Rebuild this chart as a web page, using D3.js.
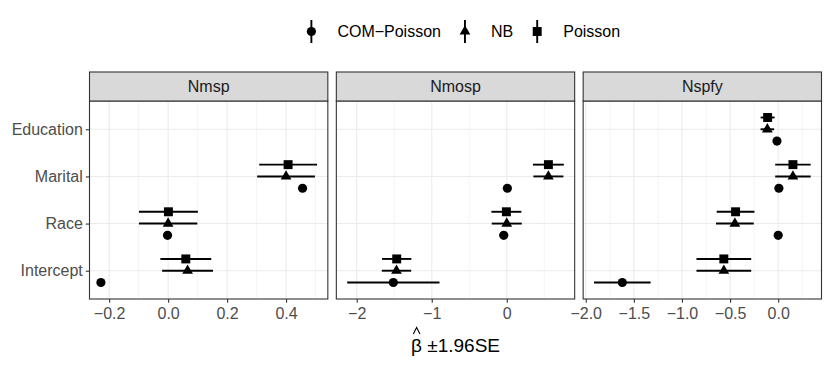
<!DOCTYPE html>
<html><head><meta charset="utf-8">
<script src="https://cdn.jsdelivr.net/npm/d3@7"></script>
<style>
body{margin:0;background:#fff}
svg{display:block}
text{font-family:"Liberation Sans",Arial,Helvetica,sans-serif}
</style>
</head><body>
<svg id="chart" width="830" height="368"></svg>
<script>
// ---------- data ----------
const panels = ["Nmsp", "Nmosp", "Nspfy"];
const terms = ["Intercept", "Race", "Marital", "Education"];   // bottom -> top
const models = ["COM-Poisson", "NB", "Poisson"];
const modelLabels = ["COM\u2212Poisson", "NB", "Poisson"];

// estimates: rows = model (COM-Poisson, NB, Poisson), cols = term (Intercept, Race, Marital, Education)
const estNmsp  = [[-0.228, -0.002, 0.456, null], [0.066, 0.000, 0.400, null], [0.060, 0.001, 0.407, null]];
const seNmsp   = [[0.001, 0.001, 0.001, null], [0.044, 0.0505, 0.050, null], [0.044, 0.051, 0.050, null]];
const estNmosp = [[-1.512, -0.040, 0.008, null], [-1.470, 0.000, 0.555, null], [-1.467, -0.005, 0.555, null]];
const seNmosp  = [[0.314, 0.028, 0.002, null], [0.100, 0.102, 0.102, null], [0.0995, 0.102, 0.105, null]];
const estNspfy = [[-1.620, 0.000, 0.007, -0.013], [-0.565, -0.450, 0.153, -0.113], [-0.565, -0.443, 0.153, -0.110]];
const seNspfy  = [[0.150, 0.002, 0.002, 0.002], [0.145, 0.100, 0.094, 0.036], [0.145, 0.100, 0.094, 0.037]];

const ticksNmsp  = [-0.2, 0.0, 0.2, 0.4];
const labelsNmsp = ["\u22120.2", "0.0", "0.2", "0.4"];
const ticksNmosp  = [-2, -1, 0];
const labelsNmosp = ["\u22122", "\u22121", "0"];
const ticksNspfy  = [-2.0, -1.5, -1.0, -0.5, 0.0];
const labelsNspfy = ["\u22122.0", "\u22121.5", "\u22121.0", "\u22120.5", "0.0"];

const panelEst = [estNmsp, estNmosp, estNspfy];
const panelSe = [seNmsp, seNmosp, seNspfy];
const panelTicks = [ticksNmsp, ticksNmosp, ticksNspfy];
const panelLabels = [labelsNmsp, labelsNmosp, labelsNspfy];

// ---------- layout ----------
const svg = d3.select("#chart");
const L = 89.5, R = 821.5, gap = 8.5;
const W = (R - L - 2 * gap) / 3;
const stripTop = 72, panelTop = 101, panelBottom = 299;
const dodge = [-0.25, 0, 0.25];
const gridCol = "#EBEBEB", darkCol = "#333333";
const fs = 16;

const y = d3.scaleLinear().domain([0.4, terms.length + 0.6]).range([panelBottom, panelTop]);

const symGen = [
  d3.symbol().type(d3.symbolCircle).size(66),
  d3.symbol().type(d3.symbolTriangle).size(50),
  d3.symbol().type(d3.symbolSquare).size(80)
];

panels.forEach((pname, pi) => {
  const x0 = L + pi * (W + gap);
  const est = panelEst[pi], se = panelSe[pi];
  const rows = [];
  models.forEach((m, mi) => terms.forEach((t, ti) => {
    const e = est[mi][ti];
    if (e === null) return;
    rows.push({mi, ti, est: e, lo: e - 1.96 * se[mi][ti], hi: e + 1.96 * se[mi][ti]});
  }));
  const lo = d3.min(rows, d => d.lo), hi = d3.max(rows, d => d.hi);
  const pad = (hi - lo) * 0.05;
  const x = d3.scaleLinear().domain([lo - pad, hi + pad]).range([x0, x0 + W]);
  const g = svg.append("g");

  g.append("rect").attr("x", x0).attr("y", panelTop).attr("width", W).attr("height", panelBottom - panelTop).attr("fill", "#fff");

  // minor grid
  const tk = panelTicks[pi];
  const step = tk[1] - tk[0];
  const minors = [tk[0] - step / 2].concat(tk.map(v => v + step / 2))
    .filter(v => v >= x.domain()[0] && v <= x.domain()[1]);
  g.selectAll(".minor").data(minors).join("line")
    .attr("x1", d => x(d)).attr("x2", d => x(d)).attr("y1", panelTop).attr("y2", panelBottom)
    .attr("stroke", gridCol).attr("stroke-width", 0.55);
  // major grid
  g.selectAll(".majx").data(tk).join("line")
    .attr("x1", d => x(d)).attr("x2", d => x(d)).attr("y1", panelTop).attr("y2", panelBottom)
    .attr("stroke", gridCol).attr("stroke-width", 1.1);
  g.selectAll(".majy").data(terms).join("line")
    .attr("x1", x0).attr("x2", x0 + W).attr("y1", (d, i) => y(i + 1)).attr("y2", (d, i) => y(i + 1))
    .attr("stroke", gridCol).attr("stroke-width", 1.1);

  // error bars
  g.selectAll(".bar").data(rows).join("line")
    .attr("x1", d => x(d.lo)).attr("x2", d => x(d.hi))
    .attr("y1", d => y(d.ti + 1 + dodge[d.mi])).attr("y2", d => y(d.ti + 1 + dodge[d.mi]))
    .attr("stroke", "#000").attr("stroke-width", 1.9);
  // points
  g.selectAll(".pt").data(rows).join("path")
    .attr("d", d => symGen[d.mi]())
    .attr("transform", d => `translate(${x(d.est)},${y(d.ti + 1 + dodge[d.mi])})`)
    .attr("fill", "#000");

  // border
  g.append("rect").attr("x", x0).attr("y", panelTop).attr("width", W).attr("height", panelBottom - panelTop)
    .attr("fill", "none").attr("stroke", darkCol).attr("stroke-width", 1.1);
  // strip
  g.append("rect").attr("x", x0).attr("y", stripTop).attr("width", W).attr("height", panelTop - stripTop)
    .attr("fill", "#D9D9D9").attr("stroke", darkCol).attr("stroke-width", 1.1);
  g.append("text").attr("x", x0 + W / 2).attr("y", (stripTop + panelTop) / 2 + 5.8)
    .attr("text-anchor", "middle").attr("font-size", fs).attr("fill", "#1A1A1A").text(pname);

  // x axis
  const ax = g.append("g").attr("transform", `translate(0,${panelBottom})`)
    .call(d3.axisBottom(x).tickValues(tk).tickFormat((d, i) => panelLabels[pi][i]).tickSizeInner(3.7).tickSizeOuter(0).tickPadding(4.5));
  ax.select(".domain").remove();
  ax.selectAll("line").attr("stroke", darkCol).attr("stroke-width", 1.1);
  ax.selectAll("text").attr("font-size", fs).attr("fill", "#4D4D4D").attr("font-family", null);

  if (pi === 0) {
    const ay = g.append("g").attr("transform", `translate(${x0},0)`)
      .call(d3.axisLeft(y).tickValues([1, 2, 3, 4]).tickFormat(d => terms[d - 1]).tickSizeInner(3.7).tickSizeOuter(0).tickPadding(3));
    ay.select(".domain").remove();
    ay.selectAll("line").attr("stroke", darkCol).attr("stroke-width", 1.1);
    ay.selectAll("text").attr("font-size", fs).attr("fill", "#4D4D4D").attr("font-family", null);
  }
});

// x-axis title: beta-hat ± 1.96SE
const cx = (L + R) / 2;
const title = svg.append("text").attr("x", cx).attr("y", 351.7).attr("text-anchor", "middle")
  .attr("font-size", 19).attr("fill", "#000").text("\u03B2 \u00B11.96SE");
const tb = title.node().getBBox();
const hx = tb.x + 5.6;
svg.append("path")
  .attr("d", d3.line()([[hx - 3.3, 334], [hx, 327.5], [hx + 3.3, 334]]))
  .attr("fill", "none").attr("stroke", "#000").attr("stroke-width", 1.1);

// legend
const legY = 31.5;
const lg = svg.append("g");
const items = [];
modelLabels.forEach((lab, i) => {
  const it = lg.append("g");
  it.append("line").attr("x1", 0).attr("x2", 0).attr("y1", legY - 11.5).attr("y2", legY + 11.5)
    .attr("stroke", "#000").attr("stroke-width", 1.9);
  it.append("path").attr("d", symGen[i]()).attr("transform", `translate(0,${legY})`).attr("fill", "#000");
  const t = it.append("text").attr("x", 26).attr("y", legY + 5.7).attr("font-size", fs).attr("fill", "#000").text(lab);
  const w = t.node().getComputedTextLength();
  items.push({it, w});
});
let total = 0;
items.forEach((d, i) => { total += 11.5 + 26 + d.w + (i < items.length - 1 ? 24 - 11.5 : 0); });
let pos = 460 - total / 2 + 11.5;
items.forEach(d => { d.it.attr("transform", `translate(${pos},0)`); pos += 26 + d.w + 24; });
</script>
</body></html>
